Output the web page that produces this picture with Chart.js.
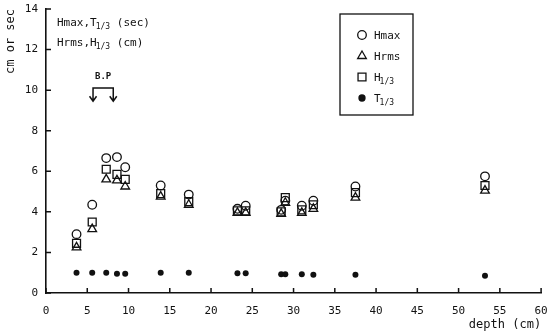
<!DOCTYPE html>
<html>
<head>
<meta charset="utf-8">
<script src="https://cdn.jsdelivr.net/npm/chart.js@4"></script>
<style>
  html, body { margin: 0; padding: 0; background: #fff; }
  canvas { display: block; }
</style>
</head>
<body>
<canvas id="myChart" width="548" height="333"></canvas>
<script>
// values
const depth = [3.7, 5.6, 7.3, 8.6, 9.6, 13.9, 17.3, 23.2, 24.2, 28.5, 29.0, 31.0, 32.4, 37.5, 53.2];
const hmax  = [2.9, 4.35, 6.65, 6.7, 6.2, 5.3, 4.85, 4.15, 4.3, 4.1, 4.55, 4.3, 4.55, 5.25, 5.75];
const hrms  = [2.25, 3.15, 5.6, 5.55, 5.25, 4.75, 4.35, 3.95, 3.95, 3.9, 4.45, 3.95, 4.15, 4.7, 5.05];
const h13   = [2.45, 3.5, 6.1, 5.85, 5.6, 4.9, 4.5, 4.05, 4.05, 4.0, 4.7, 4.1, 4.35, 4.95, 5.3];
const t13   = [1.0, 1.0, 1.0, 0.95, 0.95, 1.0, 1.0, 0.97, 0.97, 0.92, 0.92, 0.92, 0.9, 0.9, 0.85];

const xTicks = [0, 5, 10, 15, 20, 25, 30, 35, 40, 45, 50, 55, 60];
const yTicks = [0, 2, 4, 6, 8, 10, 12, 14];
// B.P bracket (depth range, height)
const bpRange = [5.7, 8.15];
const bpLevel = [10.1, 9.45];

const MONO = '"DejaVu Sans Mono", monospace';
const INK = '#111';

function pts(ys) {
  return depth.map((d, i) => ({ x: d, y: ys[i] }));
}

// text with subscripts: parts = [[text, isSub], ...]
function drawSub(ctx, x, y, parts, size) {
  let cx = x;
  parts.forEach(p => {
    if (p[1]) {
      ctx.font = Math.round(size * 0.72) + 'px ' + MONO;
      ctx.fillText(p[0], cx - 1, y + 3);
      cx += ctx.measureText(p[0]).width - 1;
    } else {
      ctx.font = size + 'px ' + MONO;
      ctx.fillText(p[0], cx, y);
      cx += ctx.measureText(p[0]).width;
    }
  });
}

const extras = {
  id: 'extras',
  afterDraw(chart) {
    const ctx = chart.ctx;
    const xs = chart.scales.x;
    const ys = chart.scales.y;
    ctx.save();
    ctx.strokeStyle = INK;
    ctx.fillStyle = INK;
    ctx.lineWidth = 1.5;

    // inward tick marks
    ctx.beginPath();
    yTicks.forEach(v => {
      const py = ys.getPixelForValue(v);
      ctx.moveTo(xs.left, py);
      ctx.lineTo(xs.left + 5, py);
    });
    xTicks.forEach(v => {
      const px = xs.getPixelForValue(v);
      ctx.moveTo(px, ys.bottom);
      ctx.lineTo(px, ys.bottom - 5);
    });
    ctx.stroke();

    // top-left note
    ctx.textBaseline = 'alphabetic';
    ctx.textAlign = 'left';
    drawSub(ctx, 57, 26, [['Hmax,T', false], ['1/3', true], [' (sec)', false]], 11);
    drawSub(ctx, 57, 46, [['Hrms,H', false], ['1/3', true], [' (cm)', false]], 11);

    // B.P bracket
    const bx0 = xs.getPixelForValue(bpRange[0]);
    const bx1 = xs.getPixelForValue(bpRange[1]);
    const by0 = ys.getPixelForValue(bpLevel[0]);
    const by1 = ys.getPixelForValue(bpLevel[1]);
    ctx.lineWidth = 1.5;
    ctx.beginPath();
    ctx.moveTo(bx0, by1);
    ctx.lineTo(bx0, by0);
    ctx.lineTo(bx1, by0);
    ctx.lineTo(bx1, by1);
    [bx0, bx1].forEach(bx => {
      ctx.moveTo(bx - 3.5, by1 - 5);
      ctx.lineTo(bx, by1);
      ctx.lineTo(bx + 3.5, by1 - 5);
    });
    ctx.stroke();
    ctx.font = 'bold 9px ' + MONO;
    ctx.textAlign = 'center';
    ctx.fillText('B.P', (bx0 + bx1) / 2, by0 - 9);

    // legend box
    ctx.lineWidth = 1.3;
    ctx.strokeRect(340, 14, 73, 101);
    const rows = [
      { style: 'circle', r: 4.3, fill: false, y: 35, label: [['Hmax', false]] },
      { style: 'triangle', r: 5, fill: false, y: 56, label: [['Hrms', false]] },
      { style: 'rect', r: 5.6, fill: false, y: 77, label: [['H', false], ['1/3', true]] },
      { style: 'circle', r: 3, fill: true, y: 98, label: [['T', false], ['1/3', true]] }
    ];
    ctx.textAlign = 'left';
    rows.forEach(row => {
      ctx.fillStyle = row.fill ? INK : 'rgba(0,0,0,0)';
      ctx.strokeStyle = INK;
      ctx.lineWidth = 1.3;
      Chart.helpers.drawPoint(ctx, { pointStyle: row.style, radius: row.r, borderWidth: 1.3, rotation: 0 }, 362, row.y);
      ctx.fillStyle = INK;
      drawSub(ctx, 374, row.y + 4, row.label, 11);
    });
    ctx.restore();
  }
};

const config = {
  type: 'scatter',
  data: {
    datasets: [
      { label: 'Hmax', data: pts(hmax), pointStyle: 'circle', pointRadius: 4.3,
        borderColor: INK, backgroundColor: 'rgba(0,0,0,0)', borderWidth: 1.3 },
      { label: 'Hrms', data: pts(hrms), pointStyle: 'triangle', pointRadius: 5,
        borderColor: INK, backgroundColor: 'rgba(0,0,0,0)', borderWidth: 1.3 },
      { label: 'H1/3', data: pts(h13), pointStyle: 'rect', pointRadius: 5.6,
        borderColor: INK, backgroundColor: 'rgba(0,0,0,0)', borderWidth: 1.3 },
      { label: 'T1/3', data: pts(t13), pointStyle: 'circle', pointRadius: 3,
        borderColor: INK, backgroundColor: INK, borderWidth: 0 }
    ]
  },
  options: {
    responsive: false,
    animation: false,
    devicePixelRatio: 1,
    layout: { padding: { top: 9, right: 6, bottom: 0, left: 0 } },
    plugins: {
      legend: { display: false },
      tooltip: { enabled: false }
    },
    scales: {
      x: {
        type: 'linear',
        min: 0,
        max: 60,
        afterBuildTicks: s => { s.ticks = xTicks.map(v => ({ value: v })); },
        afterFit: s => { s.height = 40; s.paddingLeft = 0; s.paddingRight = 0; },
        grid: { display: false, drawTicks: false },
        border: { display: true, color: INK, width: 1.6 },
        ticks: { color: INK, font: { family: MONO, size: 11 }, padding: 12, maxRotation: 0 },
        title: {
          display: true, text: 'depth (cm)', align: 'end', color: INK,
          font: { family: MONO, size: 12 }, padding: { top: 0, bottom: 1 }
        }
      },
      y: {
        type: 'linear',
        min: 0,
        max: 14,
        afterBuildTicks: s => { s.ticks = yTicks.map(v => ({ value: v })); },
        afterFit: s => { s.width = 46; s.paddingTop = 0; s.paddingBottom = 0; },
        grid: { display: false, drawTicks: false },
        border: { display: true, color: INK, width: 1.6 },
        ticks: { color: INK, font: { family: MONO, size: 11 }, padding: 8 },
        title: {
          display: true, text: 'cm or sec', align: 'end', color: INK,
          font: { family: MONO, size: 12 }, padding: { top: 4, bottom: 0 }
        }
      }
    }
  },
  plugins: [extras]
};

const myChart = new Chart(document.getElementById('myChart'), config);
</script>
</body>
</html>
